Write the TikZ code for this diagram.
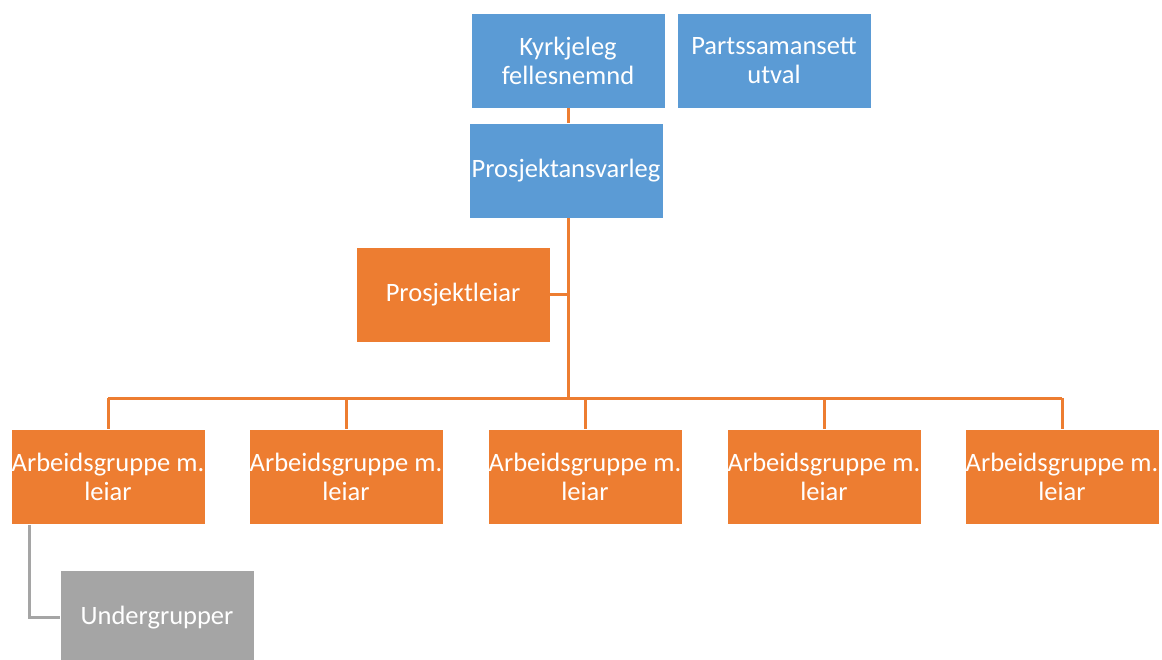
\documentclass[tikz,border=0pt]{standalone}
\usepackage{fontspec}
\setmainfont{Carlito}
\definecolor{boksblaa}{HTML}{5B9BD5}
\definecolor{boksoransje}{HTML}{ED7D31}
\definecolor{boksgraa}{HTML}{A5A5A5}
\begin{document}
\begin{tikzpicture}[x=1pt,y=-1pt,
  boks/.style={draw=white,line width=0.8pt,minimum width=194pt,minimum height=95pt,
    align=center,inner sep=0pt,text=white,
    font=\fontsize{26.5}{29}\selectfont},
  blaa/.style={boks,fill=boksblaa},
  oransje/.style={boks,fill=boksoransje},
  graa/.style={boks,fill=boksgraa},
  linje/.style={line width=3pt,draw=boksoransje}]
  \useasboundingbox (0,0) rectangle (1162,660);
  \def\gy{477}
  \node[blaa] (kfn) at (568,60.5) {Kyrkjeleg\\fellesnemnd};
  \node[blaa] (psu) at (774,60.5) {Partssamansett\\utval};
  \node[blaa] (pal) at (566,170.5) {Prosjektansvarleg};
  \node[oransje] (pl) at (453,294.5) {Prosjektleiar};
  \foreach \i/\x in {1/108,2/346,3/585,4/824,5/1062}
    \node[oransje] (ag\i) at (\x,\gy) {Arbeidsgruppe m.\\leiar};
  \node[graa] (ug) at (157,617.5) {Undergrupper};
  % linjer
  \coordinate (buss) at (568,398);
  \draw[linje] (kfn.south -| buss) -- (pal.north -| buss);
  \draw[linje] (pal.south -| buss) -- (buss);
  \draw[linje] (pl.east) -- (pl.east -| buss);
  \draw[linje] (ag1.north |- buss) -- (ag5.north |- buss);
  \foreach \i in {1,...,5}
    \draw[linje] (ag\i.north |- buss) -- (ag\i.north);
  \draw[line width=3pt,draw=boksgraa] ([xshift=-79pt]ag1.south) |- (ug.west);
\end{tikzpicture}
\end{document}
